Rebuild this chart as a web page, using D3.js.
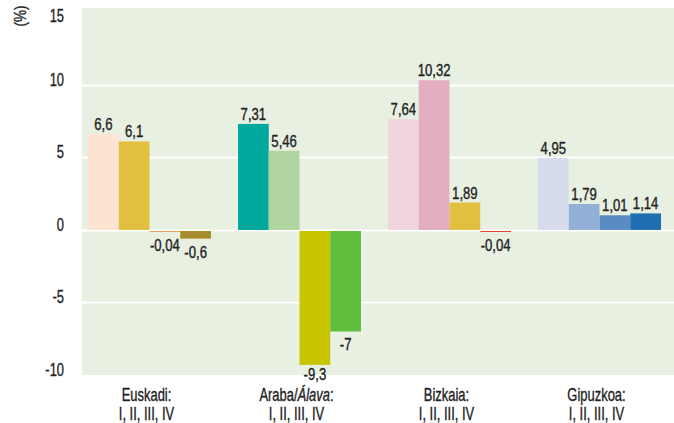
<!DOCTYPE html>
<html>
<head>
<meta charset="utf-8">
<script src="https://cdn.jsdelivr.net/npm/d3@7"></script>
<style>
  html, body { margin: 0; padding: 0; background: #fff; }
  svg { display: block; font-family: "Liberation Sans", Arial, sans-serif; }
  text { fill: #222; stroke: #222; stroke-width: 0.35px; }
  .tick-label { font-size: 19px; }
  .value-label { font-size: 16px; }
  .cat-label { font-size: 18px; }
</style>
</head>
<body>
<div id="chart"></div>
<script>
const regions = ['Euskadi', 'Araba/Álava', 'Bizkaia', 'Gipuzkoa'];
const quarters = ['I', 'II', 'III', 'IV'];
const quarterLine = 'I, II, III, IV';

const euskadiValues = [6.6, 6.1, -0.04, -0.6];
const arabaValues = [7.31, 5.46, -9.3, -7];
const bizkaiaValues = [7.64, 10.32, 1.89, -0.04];
const gipuzkoaValues = [4.95, 1.79, 1.01, 1.14];

const euskadiColors = ['#fde4d2', '#e3bf3f', '#f3a15e', '#a68b2c'];
const arabaColors = ['#00a89d', '#b1d59e', '#c9c400', '#5fbe3c'];
const bizkaiaColors = ['#f1d5de', '#e3afc0', '#e3bf3f', '#e5432e'];
const gipuzkoaColors = ['#d6dcec', '#92afd5', '#5a8bc3', '#1f70b3'];

const yTicks = [-10, -5, 0, 5, 10, 15];
const gridTicks = [-5, 0, 5, 10];

const groups = [
  { name: regions[0], values: euskadiValues, colors: euskadiColors },
  { name: regions[1], values: arabaValues, colors: arabaColors },
  { name: regions[2], values: bizkaiaValues, colors: bizkaiaColors },
  { name: regions[3], values: gipuzkoaValues, colors: gipuzkoaColors }
];

const width = 674, height = 423;
const plot = { left: 82, right: 674, top: 8, bottom: 375 };

// the original type is a condensed grotesque, squeeze Liberation Sans to match
const squeeze = { tick: 0.68, value: 0.82, cat: 0.72 };

const fmt = v => String(v).replace('.', ',');

const svg = d3.select('#chart').append('svg')
  .attr('width', width)
  .attr('height', height);

const y = d3.scaleLinear()
  .domain([-10, 15.3])
  .range([plot.bottom, plot.top]);

const x0 = d3.scaleBand()
  .domain(regions)
  .range([88, 661])
  .paddingInner(0.18)
  .paddingOuter(0);

const x1 = d3.scaleBand()
  .domain(quarters)
  .range([0, x0.bandwidth()])
  .padding(0);

// plot background
svg.append('rect')
  .attr('x', plot.left)
  .attr('y', plot.top)
  .attr('width', plot.right - plot.left)
  .attr('height', plot.bottom - plot.top)
  .attr('fill', '#e8f0e1');

// gridlines
svg.append('g')
  .selectAll('line')
  .data(gridTicks)
  .join('line')
  .attr('x1', plot.left)
  .attr('x2', plot.right)
  .attr('y1', d => Math.round(y(d)) + 0.5)
  .attr('y2', d => Math.round(y(d)) + 0.5)
  .attr('stroke', '#fff')
  .attr('stroke-width', 2);

// y tick labels
svg.append('g')
  .selectAll('text')
  .data(yTicks)
  .join('text')
  .attr('class', 'tick-label')
  .attr('text-anchor', 'end')
  .attr('transform', d => `translate(64,${Math.max(y(d) + 1, 22)}) scale(${squeeze.tick},1)`)
  .text(d => d);

svg.append('text')
  .attr('class', 'tick-label')
  .attr('transform', `translate(26,16) rotate(-90) scale(0.8,1)`)
  .attr('text-anchor', 'middle')
  .style('font-size', '17px')
  .text('(%)');

// bars
const zeroY = y(0);
const negTop = Math.round(zeroY) + 1;

const groupSel = svg.append('g')
  .selectAll('g')
  .data(groups)
  .join('g')
  .attr('transform', d => `translate(${x0(d.name)},0)`);

groupSel.selectAll('rect')
  .data(d => d.values.map((v, i) => ({ q: quarters[i], v, color: d.colors[i] })))
  .join('rect')
  .attr('x', d => x1(d.q))
  .attr('width', x1.bandwidth())
  .attr('y', d => d.v >= 0 ? y(d.v) : negTop)
  .attr('height', d => d.v >= 0 ? zeroY - y(d.v) : Math.max(1, y(d.v) - negTop))
  .attr('fill', d => d.color);

groupSel.selectAll('text')
  .data(d => d.values.map((v, i) => ({ q: quarters[i], v })))
  .join('text')
  .attr('class', 'value-label')
  .attr('text-anchor', 'middle')
  .attr('transform', d => {
    const cx = x1(d.q) + x1.bandwidth() / 2;
    const cy = d.v >= 0
      ? y(d.v) - 4
      : Math.min(Math.max(y(d.v), negTop + 1) + 19, plot.bottom + 5);
    return `translate(${cx},${cy}) scale(${squeeze.value},1)`;
  })
  .text(d => fmt(d.v));

// category labels
const cat = svg.append('g')
  .selectAll('text')
  .data(regions)
  .join('text')
  .attr('class', 'cat-label')
  .attr('text-anchor', 'middle')
  .attr('transform', d => `translate(${x0(d) + x0.bandwidth() / 2 - 3},0) scale(${squeeze.cat},1)`);

cat.append('tspan')
  .attr('x', 0)
  .attr('y', 401)
  .each(function (d) {
    const t = d3.select(this);
    if (d.includes('/')) {
      const [a, b] = d.split('/');
      t.append('tspan').text(a + '/');
      t.append('tspan').style('font-style', 'italic').text(b);
      t.append('tspan').text(':');
    } else {
      t.text(d + ':');
    }
  });

cat.append('tspan')
  .attr('x', 0)
  .attr('y', 420)
  .text(quarterLine);
</script>
</body>
</html>
